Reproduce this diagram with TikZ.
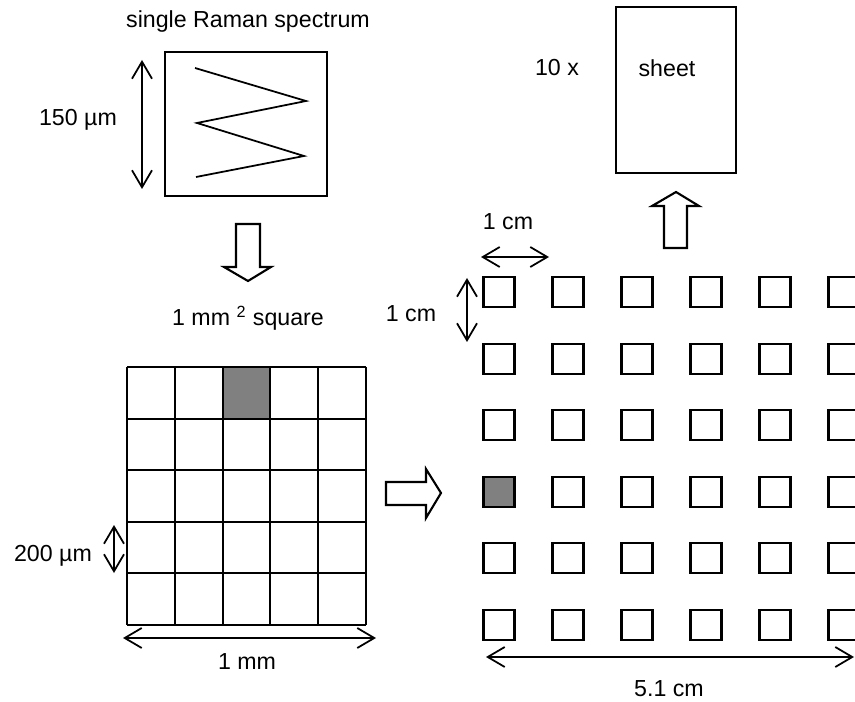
\documentclass[tikz,border=0pt]{standalone}
\usepackage{fontspec}
\setmainfont{Liberation Sans}
\usepackage{tikz}
\usetikzlibrary{positioning, arrows.meta}

\begin{document}
\begin{tikzpicture}[x=0.02cm, y=-0.02cm,
    every node/.style={font=\fontsize{13.2}{15}\selectfont},
    box/.style={draw, line width=1.2pt, inner sep=0pt},
    cell/.style={draw, line width=1.2pt, minimum width=0.62cm, minimum height=0.6cm, inner sep=0pt},
    dim/.style={{Straight Barb[length=3.4mm, width=4mm]}-{Straight Barb[length=3.4mm, width=4mm]}, line width=1pt},
    block/.style={draw, line width=1.2pt, fill=white, line join=miter}]
  \clip (0,0) rectangle (855,702);

  % single spectrum
  \node (title) at (248,22) {single Raman spectrum};
  \node[box, minimum width=3.24cm, minimum height=2.88cm] (spec) at (246,124) {};
  \draw[line width=1pt] (195,68) -- (306,101) -- (197,123) -- (304,156) -- (196,177);
  \coordinate (s1) at (142,60);
  \coordinate (s2) at (142,189);
  \draw[dim] (s1) -- (s2);
  \node (slen) at (78,120) {150 µm};

  % down arrow
  \draw[block] (236,224) -- (260,224) -- (260,267) -- (271,267) -- (248,281) -- (224,267) -- (236,267) -- cycle;

  % 1 mm^2 square
  \node (sqlabel) at (248,318) {1 mm \textsuperscript{2} square};
  \fill[gray] (222.6,367) rectangle (270.4,418.6);
  \foreach \i in {0,...,5}
    \draw[line width=1.2pt] ({127+47.8*\i},367) -- ({127+47.8*\i},625);
  \foreach \j in {0,...,5}
    \draw[line width=1.2pt] (127,{367+51.6*\j}) -- (366,{367+51.6*\j});
  \coordinate (p1) at (114,525);
  \coordinate (p2) at (114,573);
  \draw[dim] (p1) -- (p2);
  \node (plen) at (53,556) {200 µm};
  \coordinate (m1) at (123,638);
  \coordinate (m2) at (376,638);
  \draw[dim] (m1) -- (m2);
  \node (mlen) at (247,662) {1 mm};

  % right arrow
  \draw[block] (386,482) -- (426,482) -- (426,469) -- (441,493) -- (426,518) -- (426,505) -- (386,505) -- cycle;

  % sheet of squares
  \foreach \r in {0,...,5}
    \foreach \c in {0,...,5}
      \node[cell] (sq-\r-\c) at ({499+69*\c},{292+66.6*\r}) {};
  \node[cell, fill=gray] (hit) at (sq-3-0) {};
  \coordinate (h1) at (481,257);
  \coordinate (h2) at (549,257);
  \draw[dim] (h1) -- (h2);
  \node (hlen) at (508,222) {1 cm};
  \coordinate (v1) at (467,278);
  \coordinate (v2) at (467,342);
  \draw[dim] (v1) -- (v2);
  \node (vlen) at (411,314) {1 cm};
  \coordinate (w1) at (486,657);
  \coordinate (w2) at (854,657);
  \draw[dim] (w1) -- (w2);
  \node (wlen) at (669,689) {5.1 cm};

  % up arrow
  \draw[block] (664,248) -- (664,206) -- (652,206) -- (676,192) -- (699,206) -- (687,206) -- (687,248) -- cycle;

  % sheet
  \node[box, minimum width=2.4cm, minimum height=3.32cm] (sheet) at (676,90) {};
  \node (sheettxt) at (667,68) {sheet};
  \node (count) at (557,68) {10 x};
\end{tikzpicture}
\end{document}
